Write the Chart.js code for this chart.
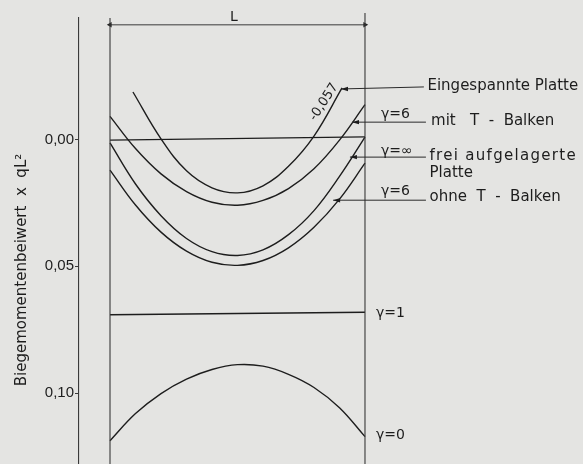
<!DOCTYPE html>
<html>
<head>
<meta charset="utf-8">
<script src="https://cdn.jsdelivr.net/npm/chart.js@4/dist/chart.umd.min.js"></script>
<style>
html,body{margin:0;padding:0;background:#e4e4e2;}
#wrap{width:583px;height:464px;position:relative;}
</style>
</head>
<body>
<div id="wrap"><canvas id="c" width="583" height="464"></canvas></div>
<script>
// ---- data (x in fractions of span L, y = Biegemomentenbeiwert, positive downward) ----
const yTicks = [0, 0.05, 0.10];
const yTickLabels = ['0,00', '0,05', '0,10'];

const xEingespannt = [0.09, 0.2, 0.3, 0.4, 0.5, 0.6, 0.7, 0.8, 0.91];
const eingespanntePlatte = [-0.0188, -0.0003, 0.0123, 0.0190, 0.0210, 0.0182, 0.0105, -0.0014, -0.0204];

const xSpan = [0, 0.1, 0.2, 0.3, 0.4, 0.5, 0.6, 0.7, 0.8, 0.9, 1.0];
const mitTBalken   = [-0.0092, 0.0035, 0.0135, 0.0205, 0.0247, 0.0259, 0.0240, 0.0193, 0.0115, 0.0002, -0.0138];
const freiAufgel   = [0.0013, 0.0175, 0.0300, 0.0390, 0.0442, 0.0457, 0.0435, 0.0375, 0.0280, 0.0145, -0.0010];
const ohneTBalken  = [0.0120, 0.0258, 0.0365, 0.0440, 0.0484, 0.0496, 0.0477, 0.0427, 0.0346, 0.0235, 0.0093];
const gamma0       = [0.1188, 0.1081, 0.1002, 0.0945, 0.0907, 0.0888, 0.0894, 0.0926, 0.0978, 0.1058, 0.1172];

const xEnds = [0, 1];
const gamma1   = [0.0691, 0.0681];
const nullLine = [0.0002, -0.0011];

const labels = {
  eingespannt: 'Eingespannte Platte',
  mit: 'mit   T  -  Balken',
  frei1: 'frei aufgelagerte',
  frei2: 'Platte',
  ohne: 'ohne  T  -  Balken',
  g6: 'γ=6', gInf: 'γ=∞', g1: 'γ=1', g0: 'γ=0',
  val: '-0,057',
  span: 'L',
  yTitle: 'Biegemomentenbeiwert  x  qL²'
};

// ---- helpers ----
const pts = (xs, ys) => xs.map((x, i) => ({x: x, y: ys[i]}));
const INK = '#1d1d1d';
const FONT = '"DejaVu Sans", sans-serif';
const TICKFONT = '"Liberation Sans", Arial, sans-serif';

function lineDs(data, extra) {
  return Object.assign({
    data: data, borderColor: INK, borderWidth: 1.4, pointRadius: 0,
    fill: false, tension: 0.4
  }, extra || {});
}

const datasets = [
  lineDs([{x:0,y:-0.048},{x:0,y:0.128}], {borderColor:'#3a3a3a', borderWidth:1.1, clip:false, tension:0}),
  lineDs([{x:1,y:-0.050},{x:1,y:0.128}], {borderColor:'#3a3a3a', borderWidth:1.1, clip:false, tension:0}),
  lineDs([{x:0,y:-0.0453},{x:1,y:-0.0453}], {borderColor:'#3a3a3a', borderWidth:1, tension:0,
      pointRadius:3.2, pointStyle:'triangle', pointRotation:[-90, 90],
      pointBackgroundColor:'#222', pointBorderColor:'#222', pointBorderWidth:0}),
  lineDs(pts(xEnds, nullLine), {tension:0}),
  lineDs(pts(xEingespannt, eingespanntePlatte)),
  lineDs(pts(xSpan, mitTBalken)),
  lineDs(pts(xSpan, freiAufgel)),
  lineDs(pts(xSpan, ohneTBalken)),
  lineDs(pts(xEnds, gamma1), {tension:0}),
  lineDs(pts(xSpan, gamma0))
];

// annotation layout in data coordinates
const leaders = [
  {x0:0.906, y0:-0.0200, x1:1.231, y1:-0.0208},
  {x0:0.949, y0:-0.0069, x1:1.239, y1:-0.0069},
  {x0:0.941, y0: 0.0069, x1:1.239, y1: 0.0069},
  {x0:0.875, y0: 0.0239, x1:1.239, y1: 0.0239}
];
const texts = [
  {t:labels.eingespannt, x:1.245, y:-0.0211, size:15},
  {t:labels.g6,   x:1.063, y:-0.0098, size:14},
  {t:labels.mit,  x:1.259, y:-0.0075, size:15},
  {t:labels.gInf, x:1.063, y: 0.0045, size:14},
  {t:labels.frei1,x:1.253, y: 0.0066, size:15, ls:1.3},
  {t:labels.frei2,x:1.253, y: 0.0132, size:15},
  {t:labels.g6,   x:1.063, y: 0.0204, size:14},
  {t:labels.ohne, x:1.253, y: 0.0226, size:15},
  {t:labels.g1,   x:1.043, y: 0.0686, size:14},
  {t:labels.g0,   x:1.043, y: 0.1168, size:14},
  {t:labels.span, x:0.486, y:-0.0482, size:14, align:'center'}
];

const bgPlugin = {
  id: 'bg',
  beforeDraw(chart) {
    const ctx = chart.ctx;
    ctx.save(); ctx.fillStyle = '#e4e4e2';
    ctx.fillRect(0, 0, chart.width, chart.height); ctx.restore();
  }
};

const annPlugin = {
  id: 'ann',
  afterDatasetsDraw(chart) {
    const ctx = chart.ctx, xs = chart.scales.x, ys = chart.scales.y;
    const X = v => xs.getPixelForValue(v), Y = v => ys.getPixelForValue(v);
    ctx.save();
    ctx.strokeStyle = '#2a2a2a'; ctx.fillStyle = INK; ctx.lineWidth = 1;
    leaders.forEach(l => {
      const ax = X(l.x0), ay = Y(l.y0), bx = X(l.x1), by = Y(l.y1);
      ctx.beginPath(); ctx.moveTo(ax, ay); ctx.lineTo(bx, by); ctx.stroke();
      ctx.beginPath(); ctx.moveTo(ax, ay); ctx.lineTo(ax + 7, ay - 2.2); ctx.lineTo(ax + 7, ay + 2.2);
      ctx.closePath(); ctx.fill();
    });
    ctx.textBaseline = 'middle';
    texts.forEach(o => {
      ctx.font = o.size + 'px ' + FONT;
      ctx.letterSpacing = (o.ls || 0) + 'px';
      ctx.textAlign = o.align || 'left';
      ctx.fillText(o.t, X(o.x), Y(o.y));
    });
    ctx.letterSpacing = '0px';
    // rotated value along clamped-plate curve
    ctx.save();
    ctx.translate(X(0.839), Y(-0.0148));
    ctx.rotate(-57 * Math.PI / 180);
    ctx.textAlign = 'center'; ctx.font = '13px ' + FONT;
    ctx.fillText(labels.val, 0, 0);
    ctx.restore();
    // y-axis title
    ctx.save();
    ctx.translate(22, 270);
    ctx.rotate(-Math.PI / 2);
    ctx.textAlign = 'center'; ctx.font = '15px ' + FONT;
    ctx.fillText(labels.yTitle, 0, 0);
    ctx.restore();
    ctx.restore();
  }
};

new Chart(document.getElementById('c'), {
  type: 'line',
  data: { datasets: datasets },
  options: {
    responsive: false, animation: false,
    layout: { autoPadding: false, padding: { top: 18, left: 0, right: 0, bottom: 0 } },
    plugins: { legend: { display: false }, tooltip: { enabled: false } },
    scales: {
      x: { type: 'linear', display: false, min: -0.1216, max: 1.855 },
      y: {
        type: 'linear', reverse: true, min: -0.048, max: 0.128,
        afterFit(scale) { scale.width = 79; scale.paddingTop = 0; scale.paddingBottom = 0; },
        afterBuildTicks(scale) { scale.ticks = yTicks.map(v => ({value: v})); },
        border: { display: true, color: '#3a3a3a', width: 1.1 },
        grid: { display: true, drawOnChartArea: false, drawTicks: true, tickLength: 4, color: '#3a3a3a' },
        ticks: {
          padding: 1, color: INK, font: { family: TICKFONT, size: 15 },
          callback: (v) => { const i = yTicks.indexOf(v); return i >= 0 ? yTickLabels[i] : ''; }
        }
      }
    }
  },
  plugins: [bgPlugin, annPlugin]
});
</script>
</body>
</html>
